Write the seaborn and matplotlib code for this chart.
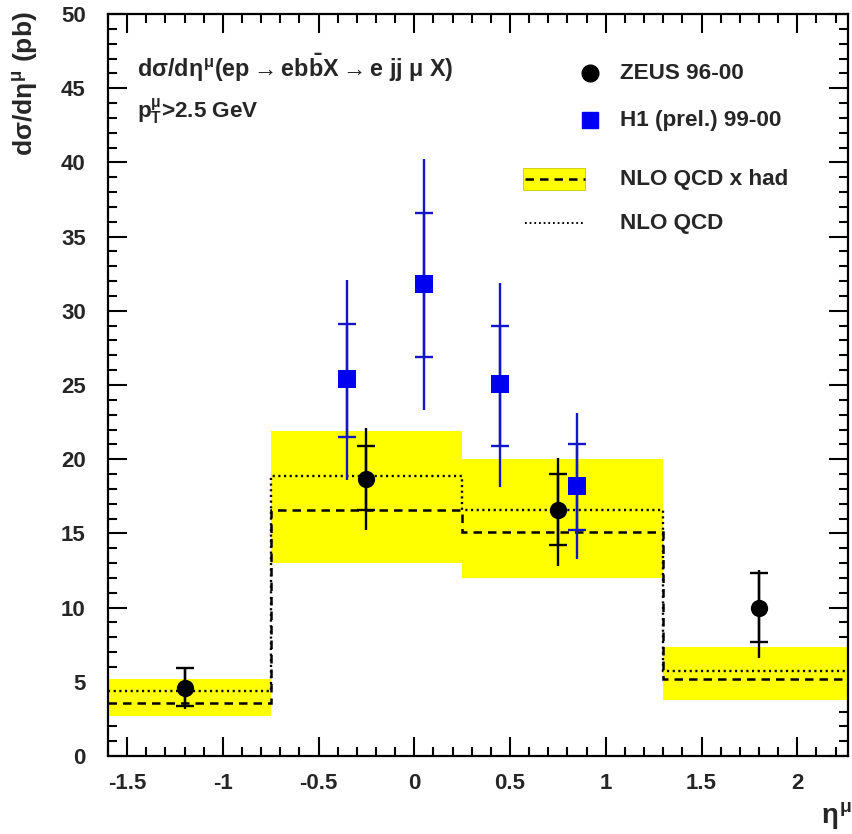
import numpy as np
import pandas as pd
import matplotlib
matplotlib.use("Agg")
import matplotlib.pyplot as plt
import seaborn as sns
from matplotlib.ticker import MultipleLocator

# ---- theory bins (eta^mu) ----
bin_edges = [-1.6, -0.75, 0.25, 1.3, 2.3]
nlo_had = [3.6, 16.6, 15.1, 5.17]        # NLO QCD x hadronisation (dashed)
nlo_had_lo = [2.7, 13.0, 12.0, 3.76]     # uncertainty band low
nlo_had_hi = [5.2, 21.9, 20.0, 7.38]     # uncertainty band high
nlo = [4.36, 18.86, 16.6, 5.7]           # NLO QCD (dotted)

# ---- ZEUS 96-00 ----
zeus_eta = [-1.2, -0.25, 0.75, 1.8]
zeus_xs = [4.55, 18.7, 16.6, 10.0]
zeus_stat_lo = [3.35, 16.6, 14.2, 7.7]
zeus_stat_hi = [5.9, 20.9, 19.0, 12.3]
zeus_tot_lo = [3.2, 15.2, 12.8, 6.6]
zeus_tot_hi = [6.0, 22.1, 20.1, 12.55]

# ---- H1 (prel.) 99-00 ----
h1_eta = [-0.35, 0.05, 0.45, 0.85]
h1_xs = [25.4, 31.8, 25.1, 18.2]
h1_stat_lo = [21.5, 26.9, 20.9, 15.2]
h1_stat_hi = [29.1, 36.6, 29.0, 21.0]
h1_tot_lo = [18.6, 23.3, 18.1, 13.3]
h1_tot_hi = [32.1, 40.2, 31.9, 23.1]

sns.set_theme(style="ticks")
plt.rcParams["font.family"] = ["Liberation Sans", "DejaVu Sans"]
plt.rcParams["font.weight"] = "bold"
plt.rcParams["mathtext.fontset"] = "custom"
plt.rcParams["mathtext.rm"] = "Liberation Sans:bold"
plt.rcParams["mathtext.it"] = "Liberation Sans:bold"
plt.rcParams["mathtext.bf"] = "Liberation Sans:bold"
plt.rcParams["mathtext.sf"] = "Liberation Sans:bold"
plt.rcParams["mathtext.fallback"] = "stixsans"

YELLOW = "#ffff00"
BLUE = "#0000f0"
BLUE_LINE = "#1414c8"
TXT = 16.2

fig = plt.figure(figsize=(8.53, 8.34), dpi=100)
ax = fig.add_axes([0.1266, 0.0935, 0.9941 - 0.1266, 0.9832 - 0.0935])

# uncertainty band of NLO QCD x had
lo_ext = nlo_had_lo + [nlo_had_lo[-1]]
hi_ext = nlo_had_hi + [nlo_had_hi[-1]]
ax.fill_between(bin_edges, lo_ext, hi_ext, step="post", color=YELLOW,
                linewidth=0, zorder=1)

# step lines for the predictions
ax.stairs(nlo_had, bin_edges, baseline=None, color="black",
          linestyle=(0, (3.4, 2.4)), linewidth=1.8, zorder=2)
ax.stairs(nlo, bin_edges, baseline=None, color="black",
          linestyle=(0, (0.9, 1.5)), linewidth=1.7, zorder=2)


def draw_points(x, y, slo, shi, tlo, thi, color, line_color, marker, size):
    x = np.asarray(x)
    y = np.asarray(y)
    # total uncertainty: plain vertical line
    ax.errorbar(x, y, yerr=[y - np.asarray(tlo), np.asarray(thi) - y],
                fmt="none", ecolor=line_color, elinewidth=1.7, capsize=0, zorder=3)
    # statistical uncertainty: marked by the short horizontal ticks
    ax.errorbar(x, y, yerr=[y - np.asarray(slo), np.asarray(shi) - y],
                fmt="none", ecolor=line_color, elinewidth=1.7, capsize=6.5,
                capthick=1.7, zorder=3)
    df = pd.DataFrame({"eta": x, "xs": y})
    sns.scatterplot(data=df, x="eta", y="xs", marker=marker, s=size, color=color,
                    edgecolor=color, linewidth=0, ax=ax, zorder=4, legend=False)


draw_points(zeus_eta, zeus_xs, zeus_stat_lo, zeus_stat_hi, zeus_tot_lo, zeus_tot_hi,
            "black", "black", "o", 155)
draw_points(h1_eta, h1_xs, h1_stat_lo, h1_stat_hi, h1_tot_lo, h1_tot_hi,
            BLUE, BLUE_LINE, "s", 170)

ax.set_xlim(-1.6, 2.265)
ax.set_ylim(0, 50)
ax.set_xlabel("")
ax.set_ylabel("")

ax.xaxis.set_minor_locator(MultipleLocator(0.1))
ax.yaxis.set_major_locator(MultipleLocator(5))
ax.yaxis.set_minor_locator(MultipleLocator(1))
ax.set_xticks(np.arange(-1.5, 2.01, 0.5))
ax.set_xticklabels(["-1.5", "-1", "-0.5", "0", "0.5", "1", "1.5", "2"])
ax.tick_params(which="both", direction="in", top=True, right=True,
               width=1.5, color="black")
ax.tick_params(which="major", length=13.5)
ax.tick_params(which="minor", length=6.5)
ax.tick_params(axis="x", which="major", pad=12, labelsize=16)
ax.tick_params(axis="y", which="major", pad=16, labelsize=16)
for lab in ax.get_xticklabels() + ax.get_yticklabels():
    lab.set_fontweight("bold")
for sp in ax.spines.values():
    sp.set_linewidth(1.6)
    sp.set_color("black")

# axis titles
fig.text(0.030, 0.986, r"d$\sigma$/d$\eta^{\mu}$ (pb)", rotation=90,
         ha="center", va="top", fontsize=19, fontweight="bold")
fig.text(0.999, 0.022, r"$\eta^{\mu}$", ha="right", va="center", fontsize=20,
         fontweight="normal")

# process description
ax.text(0.039, 0.927,
        r"d$\sigma$/d$\eta^{\mu}$(ep$\rightarrow$eb$\bar{\mathrm{b}}$X$\rightarrow$e jj $\mu$ X)",
        transform=ax.transAxes, ha="left", va="center", fontsize=16.8)
ax.text(0.039, 0.868, r"p$_{\mathrm{T}}^{\mu}$>2.5 GeV",
        transform=ax.transAxes, ha="left", va="center", fontsize=TXT)

# legend
tx = 0.692
ax.plot([0.651], [0.920], marker="o", ms=12, color="black", transform=ax.transAxes,
        linestyle="none", clip_on=False)
ax.text(tx, 0.920, "ZEUS 96-00", transform=ax.transAxes, ha="left", va="center", fontsize=TXT)
ax.plot([0.651], [0.857], marker="s", ms=11.5, color=BLUE, transform=ax.transAxes,
        linestyle="none", clip_on=False)
ax.text(tx, 0.857, "H1 (prel.) 99-00", transform=ax.transAxes, ha="left", va="center", fontsize=TXT)
ax.add_patch(plt.Rectangle((0.561, 0.763), 0.084, 0.029, transform=ax.transAxes,
                           facecolor=YELLOW, edgecolor="#c8c800", linewidth=0.6))
ax.plot([0.563, 0.645], [0.7775, 0.7775], transform=ax.transAxes, color="black",
        linestyle=(0, (3.4, 2.4)), linewidth=1.8)
ax.text(tx, 0.7775, "NLO QCD x had", transform=ax.transAxes, ha="left", va="center", fontsize=TXT)
ax.plot([0.563, 0.645], [0.718, 0.718], transform=ax.transAxes, color="black",
        linestyle=(0, (0.9, 1.5)), linewidth=1.4)
ax.text(tx, 0.718, "NLO QCD", transform=ax.transAxes, ha="left", va="center", fontsize=TXT)

fig.savefig("out.png", dpi=100)
